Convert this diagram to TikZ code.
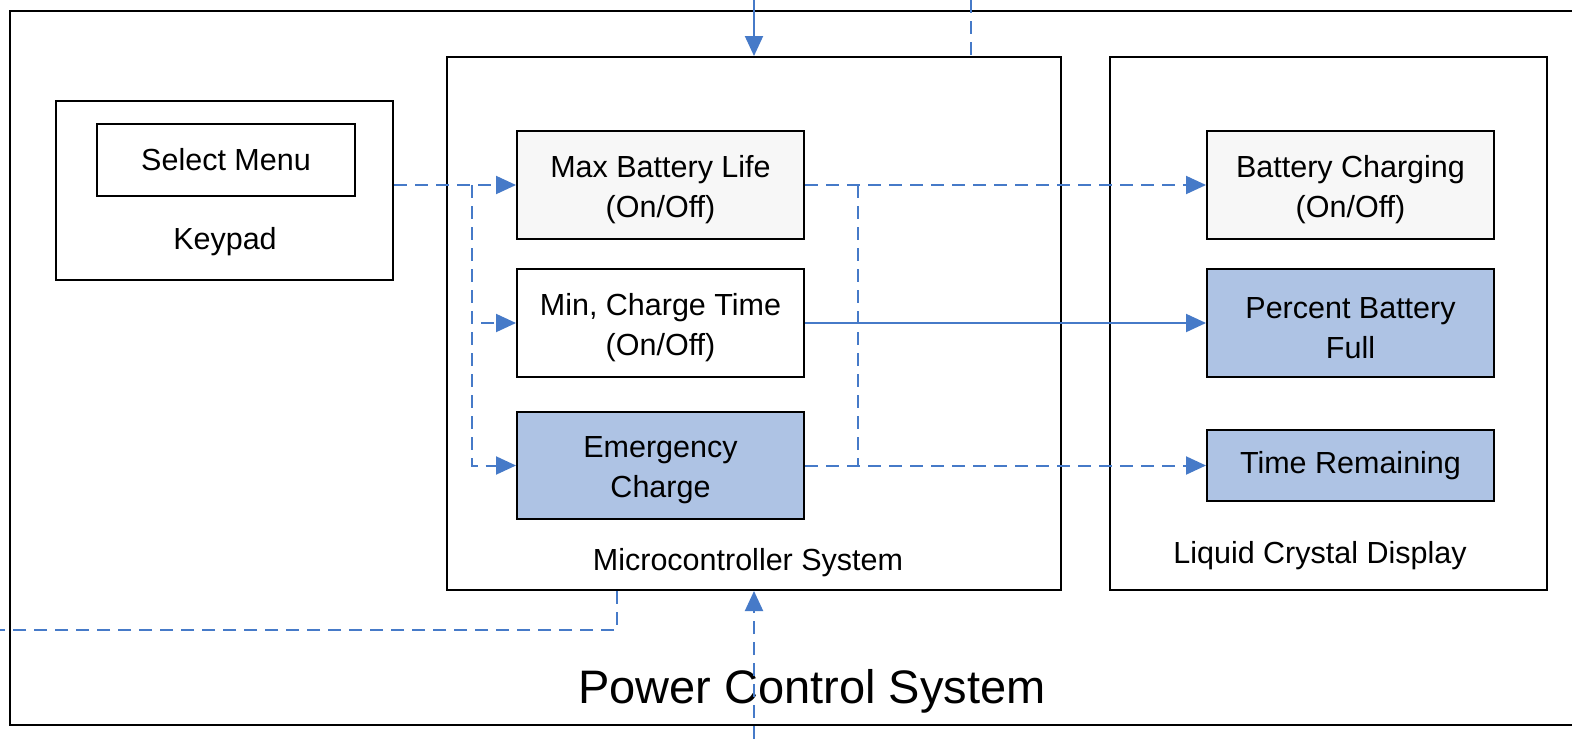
\documentclass[tikz,border=0pt]{standalone}
\usepackage{fontspec}
\setmainfont{Liberation Sans}
\usetikzlibrary{arrows.meta}
\definecolor{lineblue}{RGB}{70,122,200}
\definecolor{boxblue}{RGB}{174,195,228}
\definecolor{boxgray}{RGB}{247,247,247}
\newcommand{\twolines}[2]{\raisebox{-5pt}[\height][\depth]{\parbox{280pt}{\centering #1\\#2}}}
\begin{document}
\begin{tikzpicture}[x=1pt,y=-1pt,
  every node/.style={font=\fontsize{30.5}{40}\selectfont, align=center, inner sep=0pt},
  frame/.style={draw=black, line width=2pt},
  inbox/.style={frame, minimum width=287pt, minimum height=108pt},
  graybox/.style={inbox, fill=boxgray},
  bluebox/.style={inbox, fill=boxblue},
  whitebox/.style={inbox, fill=white},
  link/.style={draw=lineblue, line width=2pt},
  dashlink/.style={link, dash pattern=on 13pt off 8pt},
  tip/.style={-{Triangle[length=20pt,width=18pt]}}
]
\useasboundingbox (0,0) rectangle (1572,739);
\fill[white] (0,0) rectangle (1572,739);

% outer frame (open on the right)
\draw[frame] (1572,11) -- (10,11) -- (10,725) -- (1572,725);

% containers
\node[frame, minimum width=337pt, minimum height=179pt] (keypad) at (224.5,190.5) {};
\node[frame, minimum width=258pt, minimum height=72pt] (select) at (226,160) {Select Menu};
\node (keypadlbl) at (225,242) {Keypad};

\node[frame, minimum width=614pt, minimum height=533pt] (micro) at (754,323.5) {};
\node (microlbl) at (748,563) {Microcontroller System};

\node[frame, minimum width=437pt, minimum height=533pt] (lcd) at (1328.5,323.5) {};
\node (lcdlbl) at (1320,556) {Liquid Crystal Display};

% inner boxes
\node[graybox] (maxb) at (660.5,185) {\twolines{Max Battery Life}{(On/Off)}};
\node[whitebox] (minc) at (660.5,323) {\twolines{Min, Charge Time}{(On/Off)}};
\node[bluebox, minimum height=107pt] (emerg) at (660.5,465.5) {\twolines{Emergency}{Charge}};

\node[graybox] (bchg) at (1350.5,185) {\twolines{Battery Charging}{(On/Off)}};
\node[bluebox] (pct) at (1350.5,323) {\twolines{Percent Battery}{Full}};
\node[bluebox, minimum height=71pt] (trem) at (1350.5,465.5) {Time Remaining};

\node[font=\fontsize{47}{52}\selectfont] (title) at (812,691) {Power Control System};

% coordinates
\coordinate (b1) at (472,185);
\coordinate (b2) at (858,185);
\coordinate (ttop) at (754,0);
\coordinate (ttop2) at (971,0);
\coordinate (bbot) at (754,739);
\coordinate (c617) at (617,0);
\coordinate (lend) at (0,630);

% keypad to microcontroller
\draw[dashlink, tip] (keypad.east |- maxb.west) -- (maxb.west);
\draw[dashlink, tip] (b1) |- (minc.west);
\draw[dashlink, tip] (b1) |- (emerg.west);

% microcontroller to LCD
\draw[dashlink, tip] (maxb.east) -- (bchg.west);
\draw[dashlink] (b2) -- (b2 |- emerg.east);
\draw[link, tip] (minc.east) -- (pct.west);
\draw[dashlink, tip] (emerg.east) -- (trem.west);

% external connections
\draw[link, tip] (ttop) -- (micro.north);
\draw[dashlink] (ttop2) -- (ttop2 |- micro.north);
\draw[dashlink, tip] (bbot) -- (micro.south);
\draw[dashlink] (micro.south -| c617) |- (lend);
\end{tikzpicture}
\end{document}
